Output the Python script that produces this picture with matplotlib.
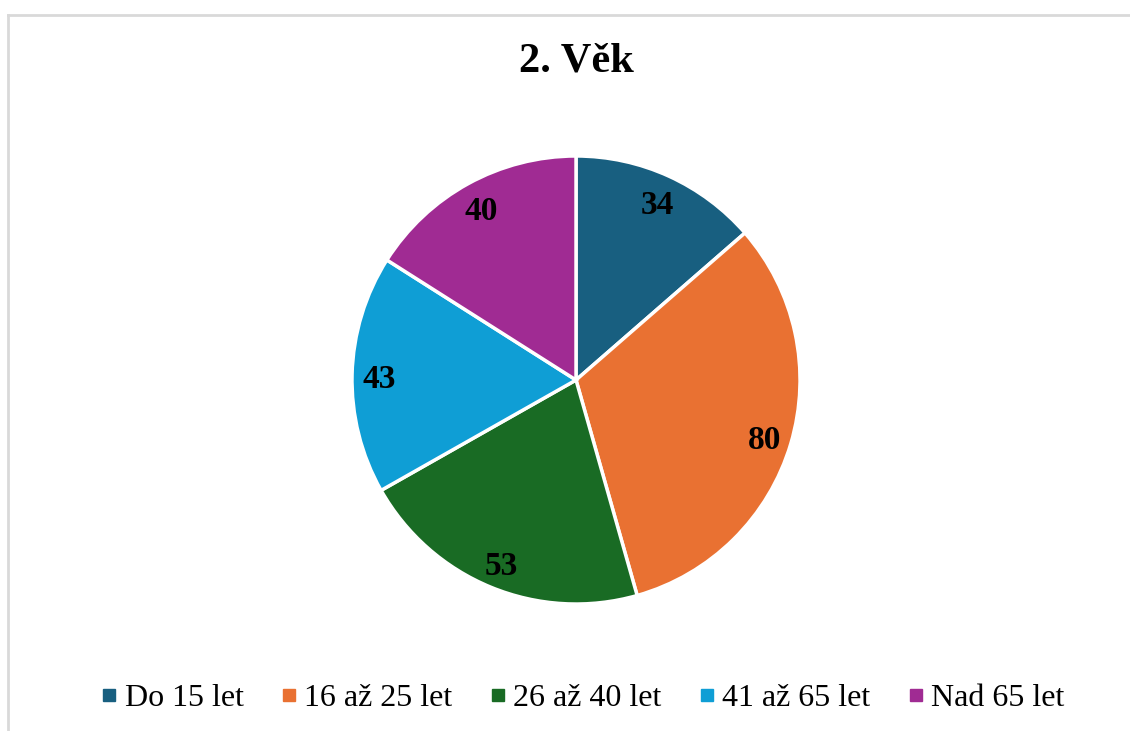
import matplotlib.pyplot as plt
from matplotlib.lines import Line2D

plt.rcParams['font.family'] = ['Liberation Serif', 'DejaVu Serif']

categories = ['Do 15 let', '16 až 25 let', '26 až 40 let', '41 až 65 let', 'Nad 65 let']
values = [34, 80, 53, 43, 40]
colors = ['#185F80', '#E97132', '#196B24', '#0F9ED5', '#A02B93']

fig = plt.figure(figsize=(11.3, 7.31), dpi=100)

# rámeček grafu (vpravo a dole oříznutý)
fig.add_artist(Line2D([0.0071, 1.01], [0.9795, 0.9795], color='#d9d9d9', lw=2))
fig.add_artist(Line2D([0.0071, 0.0071], [-0.01, 0.9795], color='#d9d9d9', lw=2))

ax = fig.add_axes([0.3115, 0.1737, 0.3965, 0.6129])
wedges, texts = ax.pie(values, colors=colors, startangle=90, counterclock=False,
                       radius=1, wedgeprops=dict(edgecolor='white', linewidth=2.5),
                       labels=[str(v) for v in values], labeldistance=0.88,
                       textprops=dict(fontsize=24, fontweight='bold', color='black'))
for t in texts:
    x, y = t.get_position()
    t.set_position((x, y - 0.02))
    t.set_ha('center')
    t.set_va('center')
ax.set_xlim(-1, 1)
ax.set_ylim(-1, 1)
ax.set_aspect('equal')

fig.text(0.5097, 1 - 62 / 731, '2. Věk', ha='center', va='center',
         fontsize=30.5, fontweight='bold')

handles = [Line2D([], [], marker='s', linestyle='', markersize=8,
                  markerfacecolor=c, markeredgecolor=c) for c in colors]
fig.legend(handles, categories, loc='center', bbox_to_anchor=(0.517, 1 - 698 / 731),
           ncol=5, frameon=False, fontsize=23, handlelength=0.35, handletextpad=0.3,
           columnspacing=1.25, borderpad=0)

fig.savefig('out.png', dpi=100)
